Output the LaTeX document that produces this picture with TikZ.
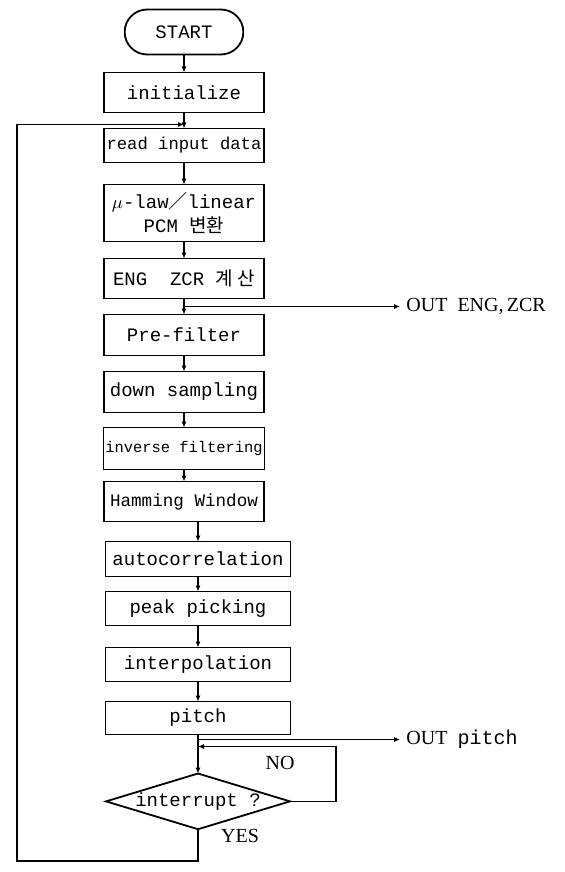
\documentclass[tikz,border=0pt]{standalone}
\usepackage{fontspec}
\setmainfont{Liberation Serif}
\setmonofont{Liberation Mono}
\newfontfamily\kor{Noto Sans CJK KR}
\usepackage{tikz}
\usetikzlibrary{arrows.meta, positioning, shapes.geometric, shapes.misc}

\begin{document}
\begin{tikzpicture}[
        x=0.5pt, y=-0.5pt,
        node distance=8pt,
        box/.style={rectangle, draw=black, line width=0.9pt, outer sep=0pt, align=center, font=\ttfamily\fontsize{9.5}{12}\selectfont, minimum width=80pt, minimum height=20pt, inner sep=1pt},
        wide/.style={box, minimum width=92.5pt, minimum height=17pt},
        term/.style={rounded rectangle, draw=black, line width=0.9pt, outer sep=0pt, font=\ttfamily\fontsize{9.5}{12}\selectfont, minimum width=66pt, minimum height=22.5pt},
        decision/.style={diamond, draw=black, line width=0.9pt, outer sep=0pt, aspect=3.3, inner sep=0pt, minimum width=88.5pt, minimum height=26.5pt, font=\ttfamily\fontsize{9.5}{12}\selectfont},
        lbl/.style={font=\fontsize{10}{12}\selectfont, inner sep=3pt},
        arrow/.style={-{Latex[length=3pt, width=2.6pt]}, line width=0.8pt}
    ]
        \useasboundingbox (0,0) rectangle (564,872);

        \node[term] (start) at (184,32) {START};
        \node[box, below=9pt of start] (init) {initialize};
        \node[box, below=8pt of init, minimum height=17pt, font=\ttfamily\fontsize{8.6}{11}\selectfont] (read) {read input data};
        \node[box, below=11pt of read, minimum height=28.5pt] (pcm) {$\mu$-law{\kor ／}linear\\PCM~{\kor 변환}};
        \node[box, below=8.5pt of pcm] (eng) {ENG~~ZCR~{\kor 계~산}};
        \node[box, below=8pt of eng, minimum height=20.5pt] (pre) {Pre-filter};
        \node[box, below=8pt of pre, minimum height=20.5pt] (down) {down sampling};
        \node[box, below=7.5pt of down, minimum height=21pt, font=\ttfamily\fontsize{7.7}{10}\selectfont] (inv) {inverse filtering};
        \node[box, below=6pt of inv, font=\ttfamily\fontsize{8.8}{11}\selectfont] (ham) {Hamming Window};
        \node[wide, below=10pt of ham, xshift=7pt, minimum height=17.5pt] (auto) {autocorrelation};
        \node[wide, below=7.5pt of auto] (peak) {peak picking};
        \node[wide, below=11pt of peak] (interp) {interpolation};
        \node[wide, below=10pt of interp, minimum height=16.5pt] (pitch) {pitch};
        \node[decision, below=19.5pt of pitch] (dec) {interrupt~?};

        % outputs
        \coordinate[below=4pt of eng] (engjoin);
        \node[lbl, anchor=west] (outeng) at (400,0 |- engjoin) {OUT~~ENG,\,ZCR};
        \coordinate[below=2.5pt of pitch] (pjoin);
        \coordinate[below=6pt of pitch] (njoin);
        \node[lbl, anchor=west] (outpitch) at (400,0 |- pjoin) {OUT~~\texttt{pitch}};

        % loop back
        \coordinate[above=2pt of read] (loopin);
        \coordinate (backbot) at (17,861);
        \coordinate[right=23pt of dec.east] (nocorner);
        \node[lbl] (nolbl) at (280,763) {NO};
        \node[lbl] (yeslbl) at (240,836) {YES};

        \draw[arrow] (start) -- (init);
        \draw[arrow] (init) -- (read);
        \draw[arrow] (read) -- (pcm);
        \draw[arrow] (pcm) -- (eng);
        \draw[arrow] (eng) -- (pre);
        \draw[arrow] (pre) -- (down);
        \draw[arrow] (down) -- (inv);
        \draw[arrow] (inv) -- (ham);
        \draw[arrow] (ham.south -| auto.north) -- (auto.north);
        \draw[arrow] (auto) -- (peak);
        \draw[arrow] (peak) -- (interp);
        \draw[arrow] (interp) -- (pitch);
        \draw[arrow] (pitch) -- (dec);
        \draw[arrow] (engjoin) -- (outeng);
        \draw[arrow] (pjoin) -- (outpitch);
        \draw[arrow] (dec.east) -- (nocorner) |- (njoin);
        \draw[arrow] (dec.south) |- (backbot) |- (loopin);
    \end{tikzpicture}
\end{document}
